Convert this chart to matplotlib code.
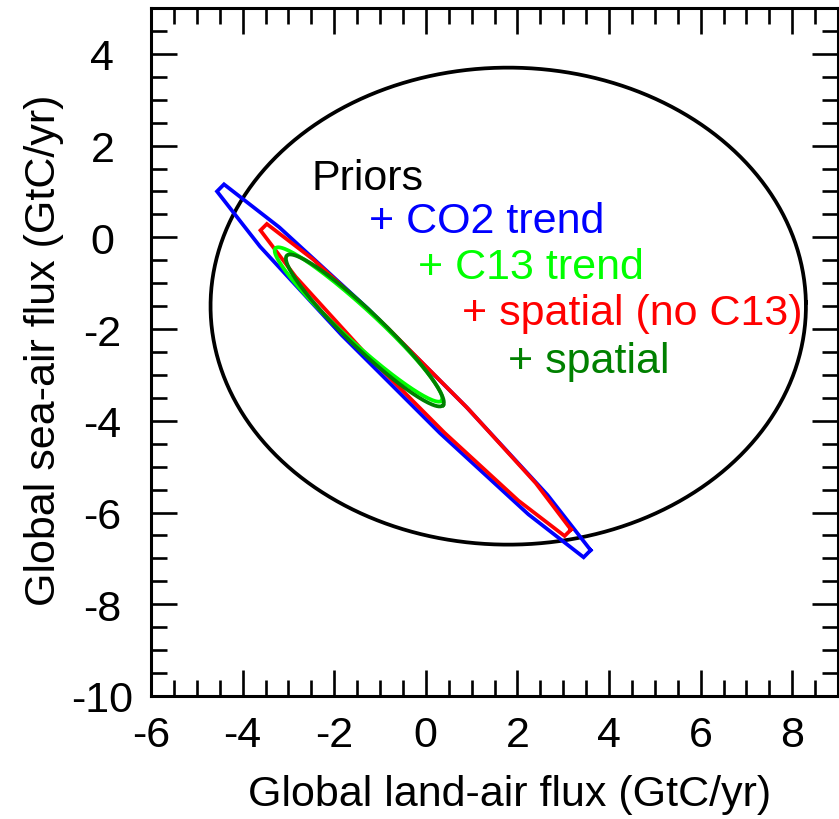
import numpy as np
import matplotlib
matplotlib.use("Agg")
import matplotlib.pyplot as plt
from matplotlib.ticker import MultipleLocator

plt.rcParams['font.family'] = ['Liberation Sans', 'DejaVu Sans']
plt.rcParams['axes.unicode_minus'] = False

# ---- data ----
labels = ['Priors', '+ CO2 trend', '+ C13 trend', '+ spatial (no C13)', '+ spatial']
colors = ['black', '#0000ff', '#00ff00', '#ff0000', '#008000']
center_x = [1.80, -0.48, -1.47, -0.22, -1.33]
center_y = [-1.50, -2.91, -1.90, -3.11, -2.03]
semi_major = [6.50, 5.85, 2.46, 4.87, 2.36]
semi_minor = [5.20, 0.42, 0.36, 0.38, 0.39]
angle_deg = [0.0, -44.9, -42.5, -45.1, -43.8]
vertex_count = [200, 12, 200, 12, 200]
draw_order = [0, 1, 3, 2, 4]

label_x = [-2.50, -1.23, -0.18, 0.78, 1.79]
label_y = [1.30, 0.35, -0.65, -1.66, -2.69]

x_limits = [-6, 9]
y_limits = [-10, 5]
xlabel = 'Global land-air flux (GtC/yr)'
ylabel = 'Global sea-air flux (GtC/yr)'

fig = plt.figure(figsize=(8.39, 8.20), dpi=100)
ax = fig.add_axes([151/839, (820-697)/820, 687/839, 688/820])

for i in draw_order:
    n = vertex_count[i]
    t = np.linspace(0, 2*np.pi, n + 1) + np.pi / n
    a, b = semi_major[i], semi_minor[i]
    th = np.deg2rad(angle_deg[i])
    u = a*np.cos(t)
    v = b*np.sin(t)
    xs = center_x[i] + u*np.cos(th) - v*np.sin(th)
    ys = center_y[i] + u*np.sin(th) + v*np.cos(th)
    ax.plot(xs, ys, color=colors[i], lw=2.7, solid_joinstyle='miter')

for i in range(len(labels)):
    ax.text(label_x[i], label_y[i], labels[i], color=colors[i], fontsize=31,
            ha='left', va='center')

ax.set_xlim(x_limits)
ax.set_ylim(y_limits)
ax.xaxis.set_major_locator(MultipleLocator(2))
ax.xaxis.set_minor_locator(MultipleLocator(0.5))
ax.yaxis.set_major_locator(MultipleLocator(2))
ax.yaxis.set_minor_locator(MultipleLocator(0.5))
ax.tick_params(which='both', direction='in', top=True, right=True,
               labelsize=31, width=1.9, color='black')
ax.tick_params(which='major', length=19)
ax.tick_params(which='minor', length=11.5)
ax.tick_params(axis='x', which='major', pad=14)
ax.tick_params(axis='y', which='major', pad=35)
for lbl in ax.get_yticklabels():
    lbl.set_horizontalalignment('center')
for s in ax.spines.values():
    s.set_linewidth(2.2)

ax.set_xlabel(xlabel, fontsize=31)
ax.set_ylabel(ylabel, fontsize=31)
ax.xaxis.set_label_coords((510-151)/687, (697-795)/688)
ax.xaxis.label.set_verticalalignment('center')
ax.yaxis.set_label_coords((44-151)/687, (697-350)/688)
ax.yaxis.label.set_verticalalignment('center')

fig.savefig('out.png', dpi=100)
